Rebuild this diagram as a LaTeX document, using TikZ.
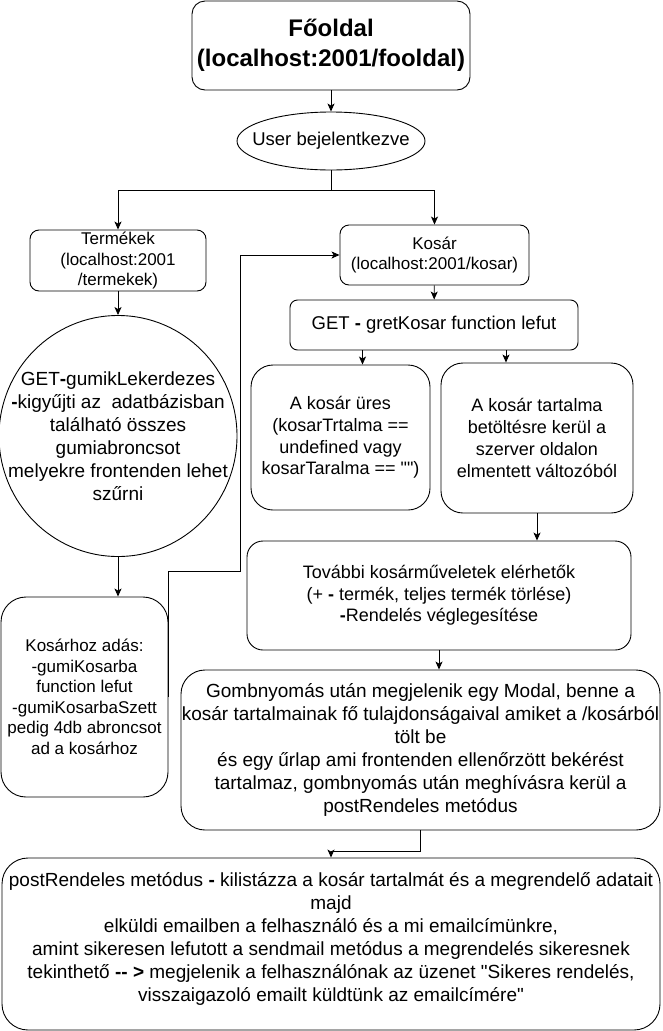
\documentclass[tikz,border=0pt]{standalone}
\usepackage{fontspec}
\setmainfont{Liberation Sans}
\usepackage{tikz}
\usetikzlibrary{arrows.meta,shapes,positioning,calc}
\newcommand{\fs}[2]{\fontsize{#1}{#2}\selectfont}
\tikzstyle{block} = [draw, rectangle, rounded corners=9pt, align=center,
    inner sep=0pt, line width=0.9pt]
\tikzstyle{bubble} = [draw, ellipse, align=center, inner sep=-40pt, line width=0.9pt]
\tikzstyle{small} = [font=\fs{17}{20.5}]
\tikzstyle{mid} = [font=\fs{18}{21.7}]
\tikzstyle{large} = [font=\fs{19}{23}]

\begin{document}
\begin{tikzpicture}[x=1pt, y=-1pt, line width=0.9pt,
    >={Stealth[length=8pt,width=7pt,inset=2pt]}]
    \useasboundingbox (0,0) rectangle (662,1031);
    % We start with the main page and the login
    \node [block, rounded corners=13pt, minimum width=278, minimum height=89,
        font=\bfseries\fs{24}{30}] (fooldal) at (331,45.5) {Főoldal\\(localhost:2001/fooldal)};
    \node [bubble, minimum width=188, minimum height=58, font=\fs{18.5}{22}] (user) at (331,141) {User bejelentkezve};
    \coordinate (split) at (331,190);
    % Left branch: products
    \node [block, small, minimum width=176, minimum height=61] (termekek) at (118,260.5) {Termékek\\(localhost:2001\\/termekek)};
    \node [bubble, large, minimum width=238, minimum height=241] (gumik) at (118,436) {GET\textbf{-}gumikLekerdezes\\\textbf{-}kigyűjti az\ \ adatbázisban\\található összes\\gumiabroncsot\\melyekre frontenden lehet\\szűrni};
    \node [block, small, rounded corners=25pt, minimum width=167, minimum height=200] (kosarhoz) at (84.5,697) {Kosárhoz adás:\\-gumiKosarba\\function lefut\\-gumiKosarbaSzett\\pedig 4db abroncsot\\ad a kosárhoz};
    % Right branch: the cart
    \node [block, small, minimum width=189, minimum height=60] (kosar) at (434.5,255) {Kosár\\(localhost:2001/kosar)};
    \node [block, rounded corners=7.5pt, minimum width=288, minimum height=50, font=\fs{18.5}{22}] (get) at (434,325) {GET \textbf{-} gretKosar function lefut};
    \node [block, mid, rounded corners=22pt, minimum width=179, minimum height=145] (ures) at (340.5,437.5) {A kosár üres\\(kosarTrtalma ==\\undefined vagy\\kosarTaralma == \textquotedbl\textquotedbl)};
    \node [block, mid, rounded corners=22pt, minimum width=192, minimum height=150] (tartalma) at (537,438) {A kosár tartalma\\betöltésre kerül a\\szerver oldalon\\elmentett változóból};
    \node [block, mid, rounded corners=16pt, minimum width=384, minimum height=109] (tovabbi) at (439,595.5) {További kosárműveletek elérhetők\\(+ \textbf{-} termék, teljes termék törlése)\\\textbf{-}Rendelés véglegesítése};
    \node [block, large, rounded corners=24pt, minimum width=479, minimum height=160] (gomb) at (420.5,750) {Gombnyomás után megjelenik egy Modal, benne a\\kosár tartalmainak fő tulajdonságaival amiket a /kosárból\\tölt be\\és egy űrlap ami frontenden ellenőrzött bekérést\\tartalmaz, gombnyomás után meghívásra kerül a\\postRendeles metódus};
    \node [block, large, rounded corners=26pt, minimum width=658, minimum height=172] (post) at (331,944) {postRendeles metódus \textbf{-} kilistázza a kosár tartalmát és a megrendelő adatait\\majd\\elküldi emailben a felhasználó és a mi emailcímünkre,\\amint sikeresen lefutott a sendmail metódus a megrendelés sikeresnek\\tekinthető \textbf{-{}- >} megjelenik a felhasználónak az üzenet \textquotedbl Sikeres rendelés,\\visszaigazoló emailt küldtünk az emailcímére\textquotedbl\\[-8pt]};
    \coordinate (bend) at (240,571);
    % Connectors
    \draw [->] (fooldal) -- (user);
    \draw (user) -- (split);
    \draw [->] (split) -| (termekek);
    \draw [->] (split) -| (kosar);
    \draw [->] (termekek) -- (gumik);
    \draw [->] (gumik.south) -- (gumik.south |- kosarhoz.north);
    \draw [->] (kosarhoz.east) |- (bend) |- (kosar.west);
    \draw [->] (kosar) -- (get);
    \draw [->] ([xshift=22]ures.north |- get.south) -- ([xshift=22]ures.north);
    \draw [->] ([xshift=-31]tartalma.north |- get.south) -- ([xshift=-31]tartalma.north);
    \draw [->] (tartalma.south) -- (tartalma.south |- tovabbi.north);
    \draw [->] (tovabbi.south) -- (tovabbi.south |- gomb.north);
    \draw [->] (gomb.south) -- ++(0,21) -| (post.north);
\end{tikzpicture}
\end{document}
